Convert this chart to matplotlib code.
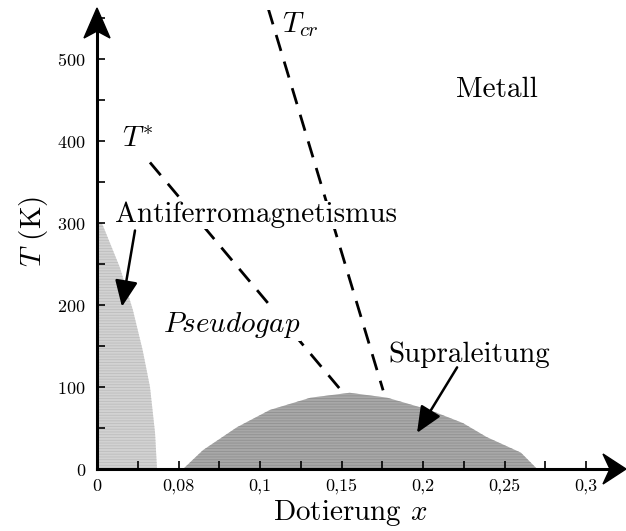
import numpy as np
import matplotlib
matplotlib.use("Agg")
import matplotlib.pyplot as plt
from matplotlib.patches import Polygon
from matplotlib.ticker import FixedLocator, MultipleLocator

plt.rcParams['font.family'] = 'cmr10'
plt.rcParams['mathtext.fontset'] = 'cm'
plt.rcParams['axes.formatter.use_mathtext'] = True
plt.rcParams['hatch.linewidth'] = 0.6

# -- antiferromagnetic region boundary (doping, T in K)
af_x = [0.0, 0.003, 0.014, 0.022, 0.028, 0.0325, 0.0356, 0.0368]
af_T = [300, 300, 246, 194, 145, 100, 44, 0]

# -- superconducting dome
sc_x = [0.0528, 0.065, 0.0859, 0.106, 0.131, 0.155, 0.178, 0.204, 0.2245, 0.239, 0.26, 0.27]
sc_T = [0, 23, 51, 72, 87, 93, 87, 72, 56, 39, 20, 0]

# -- crossover lines
tstar_x = [0.0325, 0.151]
tstar_T = [374, 93]
tcr_x = [0.105, 0.1755]
tcr_T = [562, 96]

# -- axis ticks (second label is printed as 0,08 in the original)
xtick_pos = [0, 0.05, 0.1, 0.15, 0.2, 0.25, 0.3]
xtick_lab = ['0', '0,08', '0,1', '0,15', '0,2', '0,25', '0,3']
ytick_pos = [0, 100, 200, 300, 400, 500]

W, H = 626, 531
fig = plt.figure(figsize=(W / 100, H / 100), dpi=100)
ax = fig.add_axes([97 / W, (H - 469) / H, (W - 97) / W, (469 - 10) / H])
ax.set_xlim(0, 0.3245)
ax.set_ylim(0, 560)

ax.fill_between(af_x, af_T, 0, facecolor='#d2d2d2', edgecolor='#bdbdbd',
                hatch='------', linewidth=0, zorder=1)
ax.fill_between(sc_x, sc_T, 0, facecolor='#a8a8a8', edgecolor='#909090',
                hatch='------', linewidth=0, zorder=1)

ax.plot(tstar_x, tstar_T, color='black', lw=2, dashes=(6, 4), zorder=2)
ax.plot(tcr_x, tcr_T, color='black', lw=2, dashes=(6, 4), zorder=2)

# -- axes drawn as arrows with stealth heads (pixel coords of the figure)
for s in ax.spines.values():
    s.set_visible(False)
def px(x, y):
    return (x / W, 1 - y / H)
fig.add_artist(plt.Line2D([97 / W, 612 / W], [1 - 469 / H] * 2, color='black',
                          lw=2.2, transform=fig.transFigure))
fig.add_artist(plt.Line2D([97 / W] * 2, [1 - 469 / H, 1 - 30 / H], color='black',
                          lw=2.2, transform=fig.transFigure))
fig.add_artist(Polygon([px(626, 469), px(603, 454), px(610, 469), px(603, 484)],
                       closed=True, color='black', transform=fig.transFigure))
fig.add_artist(Polygon([px(97, 8), px(84, 38), px(97, 31), px(110, 38)],
                       closed=True, color='black', transform=fig.transFigure))

ax.xaxis.set_major_locator(FixedLocator(xtick_pos))
ax.set_xticklabels(xtick_lab)
ax.xaxis.set_minor_locator(MultipleLocator(0.025))
ax.yaxis.set_major_locator(FixedLocator(ytick_pos))
ax.yaxis.set_minor_locator(MultipleLocator(50))
ax.tick_params(which='both', direction='in', length=6, width=1.2,
               labelsize=13, pad=7)
ax.tick_params(axis='y', which='both', direction='in', pad=8)

tb = dict(facecolor='white', edgecolor='none', pad=0.5)
ax.text(0.2454, 463, 'Metall', fontsize=21, ha='center', va='center')
ax.text(0.0153, 393, r'$T^{*}$', fontsize=21, ha='left', va='baseline', bbox=tb)
ax.text(0.1135, 533, r'$T_{cr}$', fontsize=21, ha='left', va='baseline', bbox=tb)
ax.text(0.011, 301, 'Antiferromagnetismus', fontsize=21, ha='left',
        va='baseline', bbox=tb, zorder=3)
ax.text(0.0405, 167, r'$Pseudogap$', fontsize=21, ha='left', va='baseline',
        bbox=tb, zorder=3)
ax.text(0.1785, 130, 'Supraleitung', fontsize=21, ha='left', va='baseline',
        bbox=tb, zorder=3)

ap = dict(arrowstyle='-|>,head_length=0.8,head_width=0.35', lw=1.8,
          color='black', mutation_scale=20, shrinkA=0, shrinkB=0)
ax.annotate('', xy=(0.0153, 198), xytext=(0.0233, 291), arrowprops=ap, zorder=4)
ax.annotate('', xy=(0.1963, 44), xytext=(0.2209, 124), arrowprops=ap, zorder=4)

fig.text(350 / W, 1 - 520 / H, r'Dotierung $x$', fontsize=21, ha='center',
         va='baseline')
fig.text(33 / W, 1 - 231 / H, r'$T$ (K)', fontsize=21, ha='center',
         va='center', rotation=90)

fig.savefig('out.png', dpi=100)
